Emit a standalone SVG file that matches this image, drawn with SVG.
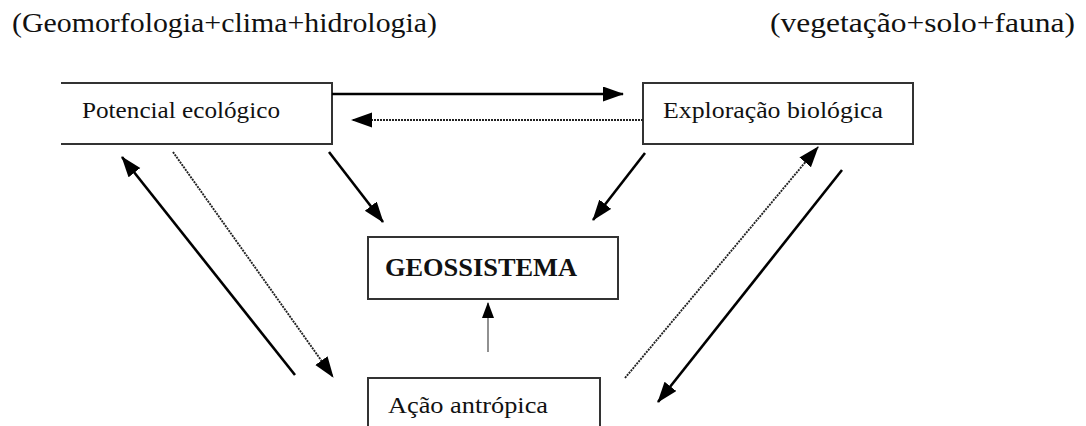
<svg xmlns="http://www.w3.org/2000/svg" width="1086" height="426" viewBox="0 0 1086 426">
<style>
.box{fill:#fff;stroke:#333;stroke-width:2}
.t{font-family:"Liberation Serif","Times New Roman",serif;fill:#111}
.solid{stroke:#000;stroke-width:2.6;fill:none}
.dot{stroke:#222;stroke-width:1.9;stroke-dasharray:2 1;fill:none}
.thin{stroke:#555;stroke-width:1.3;fill:none}
</style>
<defs>
<marker id="ah" markerUnits="userSpaceOnUse" markerWidth="22" markerHeight="16" refX="20" refY="7.5" orient="auto">
<path d="M0,0 L21,7.5 L0,15 z" fill="#000"/>
</marker>
<marker id="ahs" markerUnits="userSpaceOnUse" markerWidth="16" markerHeight="14" refX="15" refY="6" orient="auto">
<path d="M0,0 L16,6 L0,12 z" fill="#000"/>
</marker>
</defs>
<rect width="1086" height="426" fill="#fff"/>
<text class="t" x="12" y="32" font-size="28" textLength="425" lengthAdjust="spacingAndGlyphs">(Geomorfologia+clima+hidrologia)</text>
<text class="t" x="770" y="32" font-size="28" textLength="305" lengthAdjust="spacingAndGlyphs">(vegetação+solo+fauna)</text>
<g id="potencial">
<path class="box" d="M61,83 H332 V144 H61"/>
<text class="t" x="82" y="118" font-size="24" textLength="198" lengthAdjust="spacingAndGlyphs">Potencial ecológico</text>
</g>
<g id="exploracao">
<rect class="box" x="643" y="83" width="270" height="61"/>
<text class="t" x="663" y="118" font-size="24" textLength="220" lengthAdjust="spacingAndGlyphs">Exploração biológica</text>
</g>
<g id="geossistema">
<rect class="box" x="368" y="237" width="250" height="62"/>
<text class="t" x="385" y="276" font-size="26" font-weight="bold" textLength="192" lengthAdjust="spacingAndGlyphs">GEOSSISTEMA</text>
</g>
<g id="acao">
<path class="box" d="M368,440 V378 H600 V440"/>
<text class="t" x="388" y="413" font-size="24" textLength="160" lengthAdjust="spacingAndGlyphs">Ação antrópica</text>
</g>
<g id="connectors">
<line class="solid" x1="332" y1="94" x2="623" y2="94" marker-end="url(#ah)"/>
<line class="dot" x1="643" y1="120" x2="352" y2="120" marker-end="url(#ah)"/>
<line class="solid" x1="329" y1="152" x2="383" y2="222" marker-end="url(#ah)"/>
<line class="solid" x1="645" y1="153" x2="593" y2="220" marker-end="url(#ah)"/>
<line class="solid" x1="295" y1="375" x2="122" y2="157" marker-end="url(#ah)"/>
<line class="dot" x1="173" y1="152" x2="333" y2="377" marker-end="url(#ah)"/>
<line class="dot" x1="625" y1="378" x2="818" y2="147" marker-end="url(#ah)"/>
<line class="solid" x1="842" y1="170" x2="658" y2="402" marker-end="url(#ah)"/>
<line class="thin" x1="488" y1="352" x2="488" y2="303" marker-end="url(#ahs)"/>
</g>
</svg>
